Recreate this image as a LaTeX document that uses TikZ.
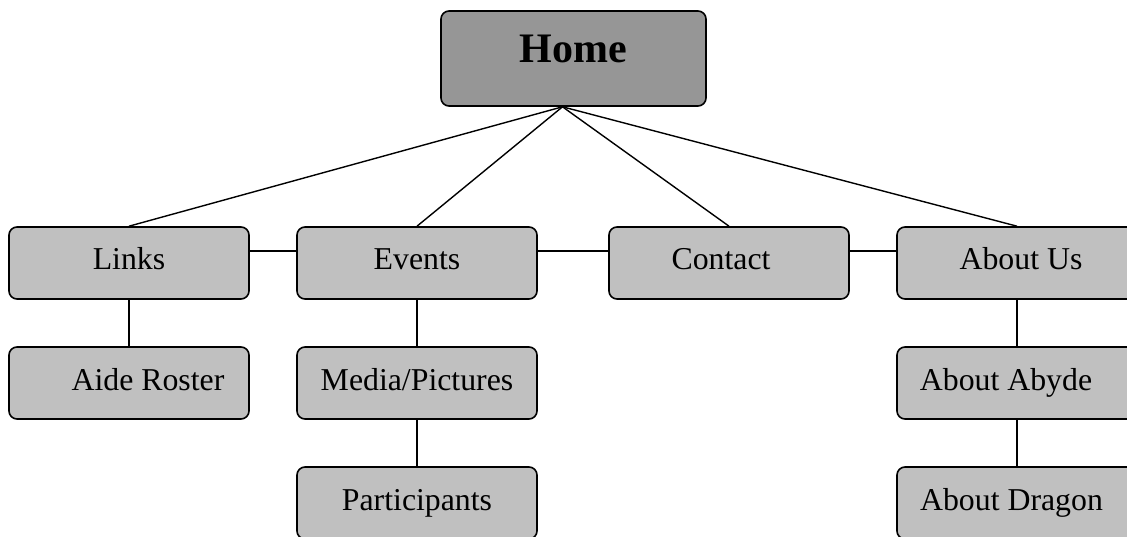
\documentclass[tikz,border=0pt]{standalone}
\usepackage{fontspec}
\setmainfont{Liberation Serif}

\definecolor{homegray}{HTML}{969696}
\definecolor{pagegray}{HTML}{C0C0C0}

\tikzset{
  page/.style={draw, line width=1.6pt, fill=pagegray, rounded corners=8pt,
    minimum width=240pt, minimum height=72pt, inner sep=0pt,
    text height=22pt, text depth=8pt, font=\fontsize{31.8}{38}\selectfont},
  homepage/.style={page, fill=homegray, minimum width=265pt, minimum height=95pt,
    text height=29.4pt, text depth=20.6pt, font=\fontsize{42}{50}\selectfont\bfseries},
  link/.style={line width=1.4pt}
}

\begin{document}
\begin{tikzpicture}[x=1pt, y=-1pt]
  \useasboundingbox (0, 0) rectangle (1127, 537);
  \clip (0, 0) rectangle (1127, 537);

  \node[homepage] (home) at (573.5, 58.5) {Home};

  \node[page] (links) at (129, 263) {Links};
  \node[page] (events) at (417, 263) {Events};
  \node[page] (contact) at (729, 263) {Contact\hspace*{16pt}};
  \node[page] (aboutus) at (1017, 263) {\hspace*{8pt}About Us};

  \node[page] (aide) at (129, 383) {\hspace*{38pt}Aide Roster};
  \node[page] (media) at (417, 383) {Media/Pictures};
  \node[page] (participants) at (417, 503) {Participants};
  \node[page] (abyde) at (1017, 383) {About Abyde\hspace*{22pt}};
  \node[page] (dragon) at (1017, 503) {About Dragon\hspace*{11pt}};

  \draw[link] ([xshift=-11pt]home.south) -- (links.north);
  \draw[link] ([xshift=-11pt]home.south) -- (events.north);
  \draw[link] ([xshift=-11pt]home.south) -- (contact.north);
  \draw[link] ([xshift=-11pt]home.south) -- (aboutus.north);

  \draw[link] ([yshift=12pt]links.east) -- ([yshift=12pt]events.west);
  \draw[link] ([yshift=12pt]events.east) -- ([yshift=12pt]contact.west);
  \draw[link] ([yshift=12pt]contact.east) -- ([yshift=12pt]aboutus.west);

  \draw[link] (links.south) -- (aide.north);
  \draw[link] (events.south) -- (media.north);
  \draw[link] (media.south) -- (participants.north);
  \draw[link] (aboutus.south) -- (abyde.north);
  \draw[link] (abyde.south) -- (dragon.north);

\end{tikzpicture}
\end{document}
